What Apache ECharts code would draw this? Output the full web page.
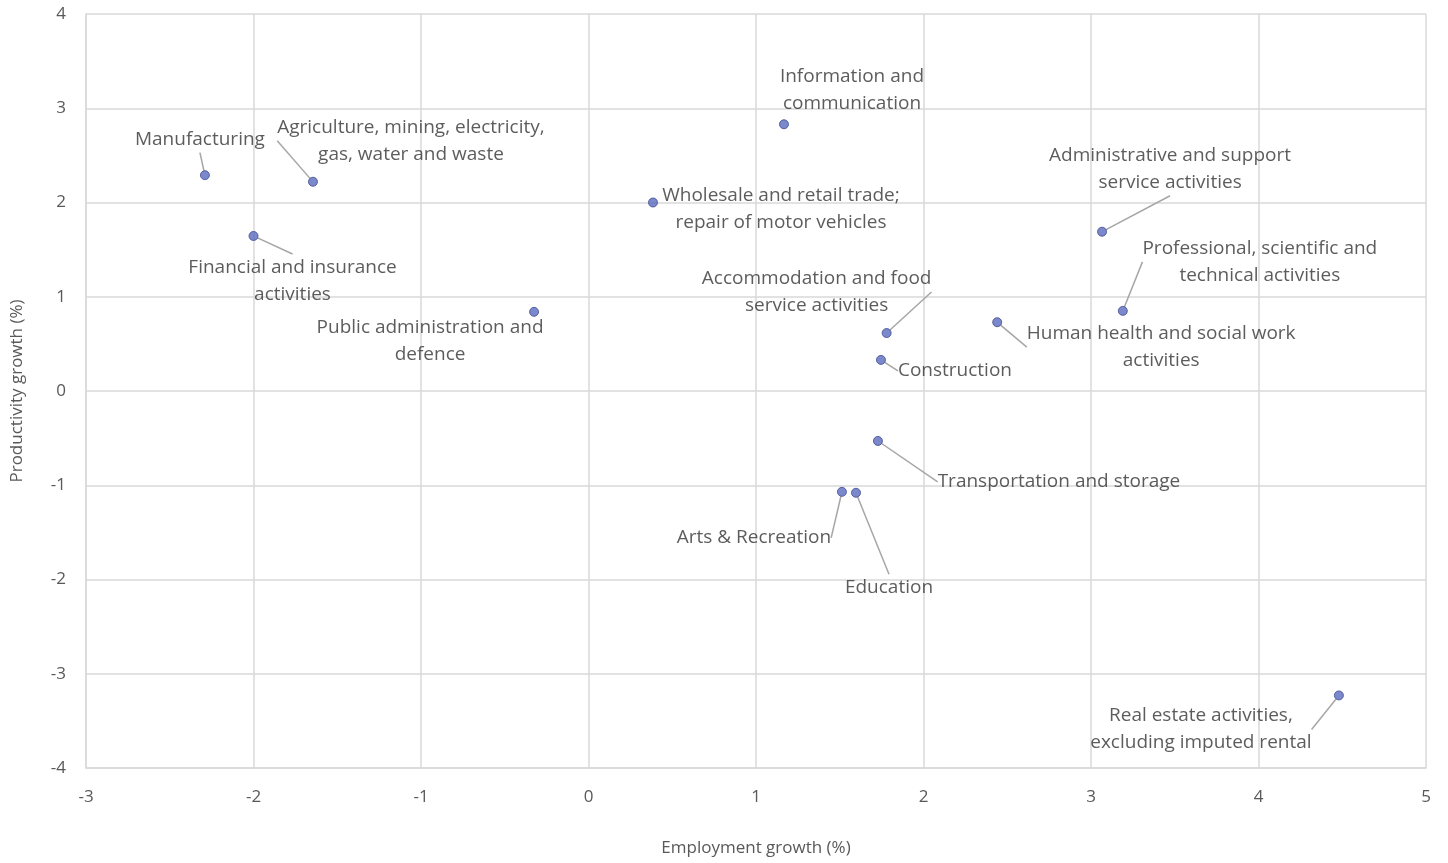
<!DOCTYPE html>
<html>
<head>
<meta charset="utf-8">
<script src="https://cdn.jsdelivr.net/npm/echarts@6/dist/echarts.min.js"></script>
<style>
html,body{margin:0;padding:0;background:#fff;}
#chart{width:1448px;height:863px;}
</style>
</head>
<body>
<div id="chart"></div>
<script>
// ---- data ----
const sectors = [
  "Manufacturing",
  "Agriculture, mining, electricity,\ngas, water and waste",
  "Financial and insurance\nactivities",
  "Public administration and\ndefence",
  "Wholesale and retail trade;\nrepair of motor vehicles",
  "Information and\ncommunication",
  "Accommodation and food\nservice activities",
  "Construction",
  "Human health and social work\nactivities",
  "Administrative and support\nservice activities",
  "Professional, scientific and\ntechnical activities",
  "Transportation and storage",
  "Arts & Recreation",
  "Education",
  "Real estate activities,\nexcluding imputed rental"
];
const employmentGrowth = [-2.29, -1.645, -2.0, -0.325, 0.385, 1.167, 1.78, 1.746, 2.44, 3.066, 3.19, 1.728, 1.513, 1.597, 4.48];
const productivityGrowth = [2.29, 2.22, 1.645, 0.84, 2.0, 2.83, 0.615, 0.33, 0.73, 1.69, 0.85, -0.53, -1.07, -1.08, -3.23];
const xTicks = [-3, -2, -1, 0, 1, 2, 3, 4, 5];
const yTicks = [-4, -3, -2, -1, 0, 1, 2, 3, 4];

// label offsets (pixels, label centre relative to marker) - layout only
const labelOffsets = [
  [-5, -36], [98, -41], [39, 45], [-104, 29], [128, 7], [68, -34], [-70, -41],
  [74, 11], [164, 25], [68, -63], [137, -49], [181, 41], [-88, 46], [33, 95], [-138, 34]
];
// labels drawn without a leader line (layout only)
const noLeader = [3, 4, 5];

const chart = echarts.init(document.getElementById('chart'));
const FONT = '"Open Sans", "Noto Sans", sans-serif';
const gridColor = '#d9d9d9';

chart.setOption({
  animation: false,
  backgroundColor: '#ffffff',
  grid: { left: 86, right: 22, top: 14, bottom: 95, containLabel: false, outerBoundsMode: 'none' },
  xAxis: {
    type: 'value',
    min: xTicks[0], max: xTicks[xTicks.length - 1], interval: 1,
    name: 'Employment growth (%)',
    nameLocation: 'middle', nameGap: 72,
    nameTextStyle: { fontFamily: FONT, fontSize: 17, color: '#595959' },
    axisLine: { show: true, onZero: false, lineStyle: { color: gridColor, width: 1.5 } },
    axisTick: { show: false },
    axisLabel: { fontFamily: FONT, fontSize: 17, color: '#595959', margin: 21 },
    splitLine: { show: true, lineStyle: { color: gridColor, width: 1.5 } }
  },
  yAxis: {
    type: 'value',
    min: yTicks[0], max: yTicks[yTicks.length - 1], interval: 1,
    name: 'Productivity growth (%)',
    nameLocation: 'middle', nameGap: 60, nameRotate: 90,
    nameTextStyle: { fontFamily: FONT, fontSize: 17, color: '#595959' },
    axisLine: { show: true, onZero: false, lineStyle: { color: gridColor, width: 1.5 } },
    axisTick: { show: false },
    axisLabel: { fontFamily: FONT, fontSize: 17, color: '#595959', margin: 20 },
    splitLine: { show: true, lineStyle: { color: gridColor, width: 1.5 } }
  },
  series: [{
    type: 'scatter',
    symbolSize: 9,
    itemStyle: { color: '#5b6abf', borderColor: '#3f4b8f', borderWidth: 1 },
    data: employmentGrowth.map((x, i) => {
      const d = { value: [x, productivityGrowth[i]], name: sectors[i] };
      if (noLeader.indexOf(i) >= 0) d.labelLine = { show: false };
      return d;
    }),
    label: {
      show: true,
      position: 'inside',
      formatter: p => p.name,
      fontFamily: FONT,
      fontSize: 19,
      lineHeight: 27,
      color: '#333333',
      align: 'center',
      verticalAlign: 'middle'
    },
    labelLine: { show: true, lineStyle: { color: '#a6a6a6', width: 1.5 } },
    labelLayout: function (params) {
      const o = labelOffsets[params.dataIndex];
      return { dx: o[0], dy: o[1] };
    }
  }]
});
</script>
</body>
</html>
